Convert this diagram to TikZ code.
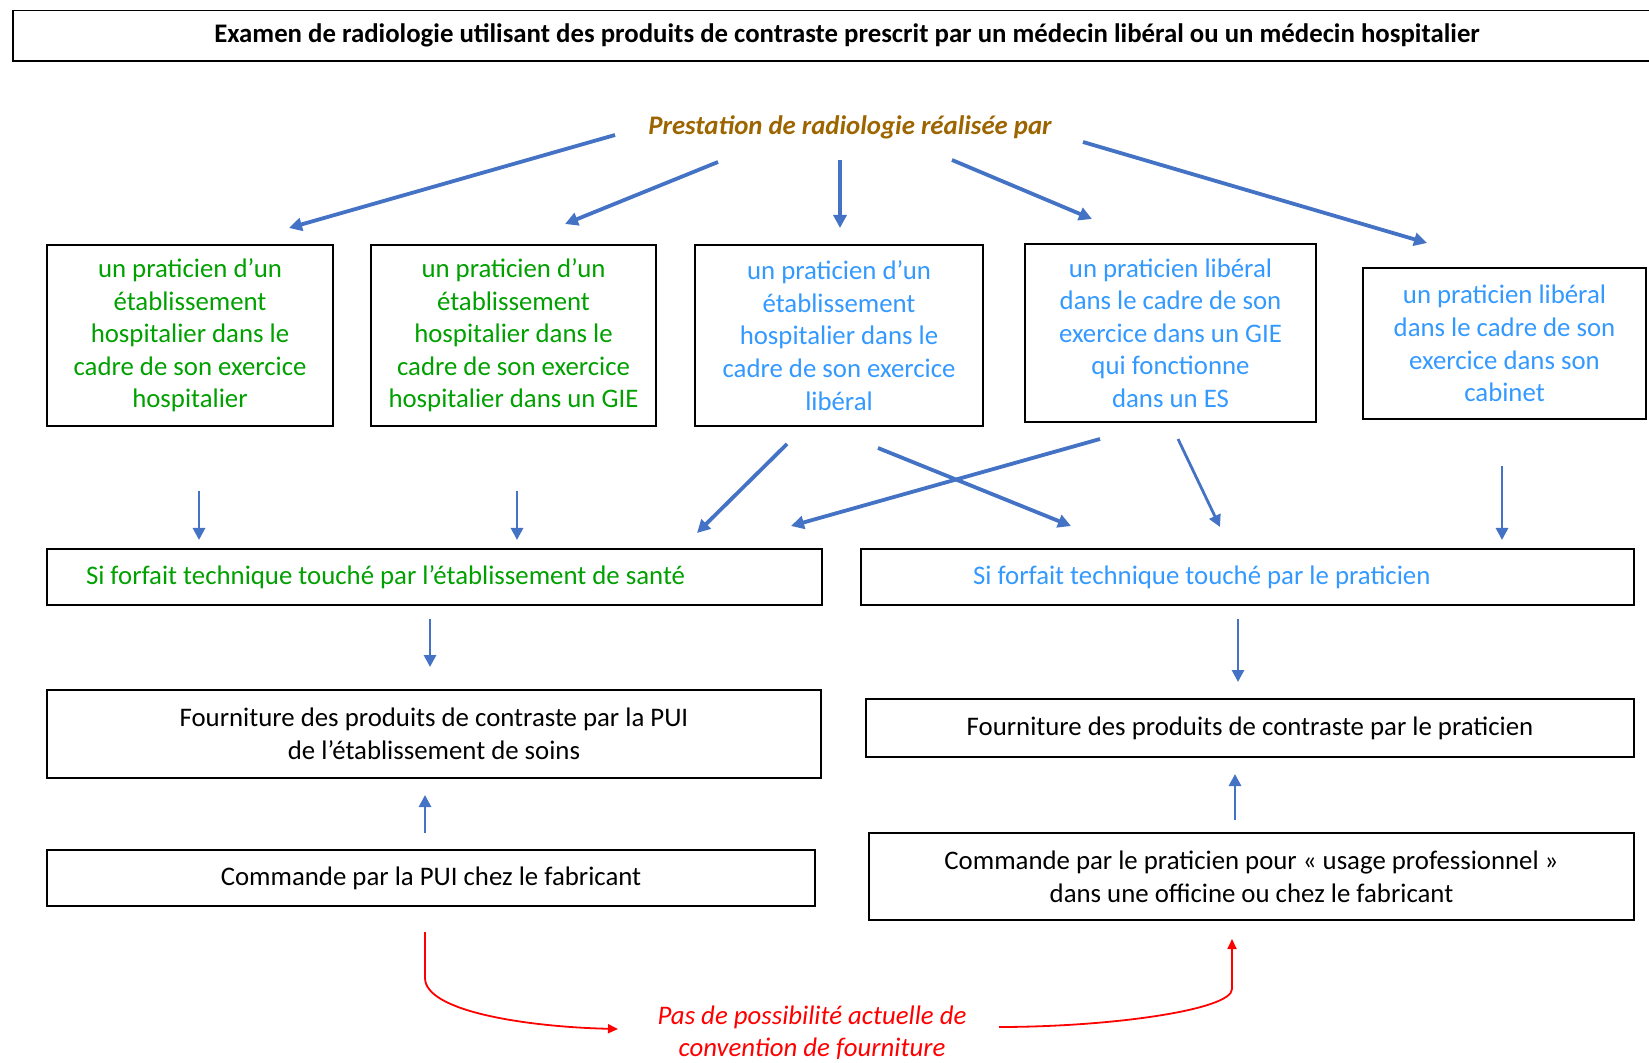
\documentclass[tikz,border=0pt]{standalone}
\usepackage{fontspec}
\setmainfont{Carlito}
\usetikzlibrary{arrows.meta}
\definecolor{cgreen}{HTML}{00A000}
\definecolor{cblue}{HTML}{3399FF}
\definecolor{cbrown}{HTML}{9C6500}
\definecolor{carrow}{HTML}{4472C4}
\definecolor{cred}{HTML}{FF0000}
\begin{document}
\begin{tikzpicture}[x=0.5pt,y=-0.5pt,
  box/.style={draw=black,line width=0.8pt,inner sep=0pt,align=center,font=\fontsize{13.4}{16.3}\selectfont},
  gtext/.style={text=cgreen},
  btext/.style={text=cblue},
  arr/.style={draw=carrow,line width=1.4pt,-{Triangle[length=6pt,width=6pt]}},
  thick arr/.style={draw=carrow,line width=1.9pt,-{Triangle[length=6.5pt,width=6.5pt]}},
  redarr/.style={draw=cred,line width=0.9pt,-{Triangle[length=5pt,width=4.5pt]}}]
\useasboundingbox (0,0) rectangle (1649,1063);

\node[box,minimum width=834pt,minimum height=25.25pt,font=\bfseries\fontsize{13.4}{15}\selectfont] (title) at (847,35.75)
  {Examen de radiologie utilisant des produits de contraste prescrit par un médecin libéral ou un médecin hospitalier};

\node[font=\bfseries\itshape\fontsize{13.4}{15}\selectfont,text=cbrown] (prest) at (850,127) {Prestation de radiologie réalisée par};

\node[box,gtext,minimum width=143pt,minimum height=90.5pt] (b1) at (190,335.5)
  {un praticien d’un\\établissement\\hospitalier dans le\\cadre de son exercice\\hospitalier};
\node[box,gtext,minimum width=142.5pt,minimum height=90.5pt] (b2) at (513.5,335.5)
  {un praticien d’un\\établissement\\hospitalier dans le\\cadre de son exercice\\hospitalier dans un GIE};
\node[box,btext,minimum width=144pt,minimum height=90.5pt] (b3) at (839,335.5)
  {un praticien d’un\\établissement\\hospitalier dans le\\cadre de son exercice\\libéral};
\node[box,btext,minimum width=145.5pt,minimum height=89pt] (b4) at (1170.5,333)
  {un praticien libéral\\dans le cadre de son\\exercice dans un GIE\\qui fonctionne\\dans un ES};
\node[box,btext,minimum width=141.5pt,minimum height=75.5pt] (b5) at (1504.5,343.5)
  {un praticien libéral\\dans le cadre de son\\exercice dans son\\cabinet};

\node[box,gtext,minimum height=28pt,inner xsep=19.5pt,text width=348.5pt,align=flush left] (s1) at (434.5,577)
  {Si forfait technique touché par l’établissement de santé};
\node[box,btext,minimum height=28pt,inner xsep=56pt,text width=274.5pt,align=flush left] (s2) at (1247.5,577)
  {Si forfait technique touché par le praticien};

\node[box,minimum width=387pt,minimum height=44pt] (f1) at (434,734)
  {Fourniture des produits de contraste par la PUI\\de l’établissement de soins};
\node[box,minimum width=384pt,minimum height=29pt] (f2) at (1250,728)
  {Fourniture des produits de contraste par le praticien};

\node[box,minimum width=384pt,minimum height=28pt] (c1) at (431,878)
  {Commande par la PUI chez le fabricant};
\node[box,minimum width=382.5pt,minimum height=43.5pt] (c2) at (1251.5,876.5)
  {Commande par le praticien pour « usage professionnel »\\dans une officine ou chez le fabricant};

\node[align=center,text=cred,font=\itshape\fontsize{13.4}{16}\selectfont] (pas) at (812,1033)
  {Pas de possibilité actuelle de\\convention de fourniture};

% arrows from Prestation
\coordinate (p1s) at (615,135); \coordinate (p1e) at (289,228);
\coordinate (p2s) at (718,162); \coordinate (p2e) at (565,224);
\coordinate (p3s) at (840,160); \coordinate (p3e) at (840,228);
\coordinate (p4s) at (952,160); \coordinate (p4e) at (1092,219);
\coordinate (p5s) at (1083,142); \coordinate (p5e) at (1427,243);
\draw[thick arr] (p1s) -- (p1e);
\draw[thick arr] (p2s) -- (p2e);
\draw[thick arr] (p3s) -- (p3e);
\draw[thick arr] (p4s) -- (p4e);
\draw[thick arr] (p5s) -- (p5e);

% row 1 -> row 2
\coordinate (q1s) at (199,491); \coordinate (q1e) at (199,540);
\coordinate (q2s) at (517,491); \coordinate (q2e) at (517,540);
\coordinate (q3s) at (787,444); \coordinate (q3e) at (697,533);
\coordinate (q4s) at (878,448); \coordinate (q4e) at (1071,526);
\coordinate (q5s) at (1100,439); \coordinate (q5e) at (791,526);
\coordinate (q6s) at (1178,439); \coordinate (q6e) at (1220,527);
\coordinate (q7s) at (1502,466); \coordinate (q7e) at (1502,540);
\draw[arr] (q1s) -- (q1e);
\draw[arr] (q2s) -- (q2e);
\draw[thick arr] (q3s) -- (q3e);
\draw[thick arr] (q4s) -- (q4e);
\draw[thick arr] (q5s) -- (q5e);
\draw[arr] (q6s) -- (q6e);
\draw[arr] (q7s) -- (q7e);

% row 2 -> row 3
\coordinate (r1s) at (430,619); \coordinate (r1e) at (430,667);
\coordinate (r2s) at (1238,619); \coordinate (r2e) at (1238,682);
\draw[arr] (r1s) -- (r1e);
\draw[arr] (r2s) -- (r2e);

% row 4 -> row 3
\coordinate (u1s) at (425,833); \coordinate (u1e) at (425,795);
\coordinate (u2s) at (1235,820); \coordinate (u2e) at (1235,774);
\draw[arr] (u1s) -- (u1e);
\draw[arr] (u2s) -- (u2e);

% red curves
\coordinate (l1) at (425,932); \coordinate (l2) at (425,978); \coordinate (l3) at (618,1029);
\draw[redarr] (l1) -- (l2) .. controls (425,1012) and (530,1027) .. (l3);
\coordinate (m1) at (999,1027); \coordinate (m2) at (1232,989); \coordinate (m3) at (1232,939);
\draw[redarr] (m1) .. controls (1110,1027) and (1232,1010) .. (m2) -- (m3);
\end{tikzpicture}
\end{document}
